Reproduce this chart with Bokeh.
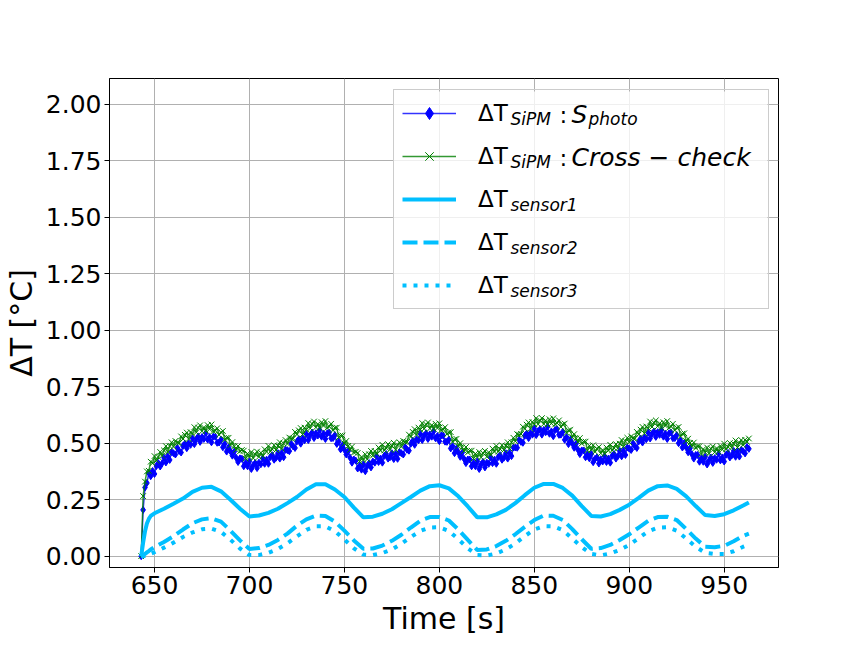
from bokeh.plotting import figure
from bokeh.models import (Range1d, FixedTicker, PrintfTickFormatter, Legend,
                          LegendItem, Label, ColumnDataSource, BoxAnnotation)
from bokeh.embed import file_html
from bokeh.resources import INLINE

# ---------------- data ----------------
T_SIPM = list(range(643, 964))  # one sample per second, 643 s ... 963 s

DT_SIPM_PHOTO = [
    0.000, 0.205, 0.304, 0.324, 0.368, 0.354, 0.377, 0.364, 0.399, 0.412,
    0.397, 0.411, 0.436, 0.415, 0.442, 0.426, 0.461, 0.456, 0.450, 0.480,
    0.466, 0.459, 0.488, 0.498, 0.478, 0.500, 0.493, 0.522, 0.496, 0.517,
    0.530, 0.506, 0.527, 0.519, 0.545, 0.516, 0.527, 0.504, 0.529, 0.529,
    0.502, 0.503, 0.516, 0.482, 0.497, 0.463, 0.481, 0.464, 0.445, 0.463,
    0.436, 0.417, 0.433, 0.431, 0.398, 0.413, 0.398, 0.420, 0.386, 0.403,
    0.412, 0.390, 0.414, 0.407, 0.433, 0.409, 0.427, 0.409, 0.439, 0.447,
    0.427, 0.436, 0.456, 0.432, 0.457, 0.438, 0.471, 0.469, 0.465, 0.498,
    0.486, 0.479, 0.508, 0.518, 0.498, 0.520, 0.513, 0.541, 0.514, 0.535,
    0.547, 0.523, 0.544, 0.534, 0.558, 0.529, 0.542, 0.519, 0.544, 0.547,
    0.522, 0.523, 0.536, 0.497, 0.507, 0.473, 0.491, 0.471, 0.450, 0.465,
    0.436, 0.414, 0.428, 0.423, 0.388, 0.400, 0.383, 0.407, 0.376, 0.398,
    0.412, 0.393, 0.419, 0.414, 0.443, 0.417, 0.432, 0.414, 0.444, 0.452,
    0.432, 0.438, 0.456, 0.430, 0.452, 0.431, 0.461, 0.456, 0.450, 0.483,
    0.471, 0.467, 0.498, 0.511, 0.493, 0.518, 0.513, 0.541, 0.514, 0.533,
    0.544, 0.519, 0.539, 0.529, 0.553, 0.522, 0.532, 0.509, 0.534, 0.534,
    0.507, 0.506, 0.516, 0.477, 0.487, 0.456, 0.476, 0.459, 0.440, 0.458,
    0.431, 0.412, 0.428, 0.428, 0.398, 0.413, 0.398, 0.420, 0.386, 0.406,
    0.417, 0.393, 0.414, 0.409, 0.438, 0.412, 0.427, 0.409, 0.439, 0.447,
    0.427, 0.436, 0.456, 0.432, 0.457, 0.443, 0.481, 0.481, 0.480, 0.515,
    0.506, 0.502, 0.533, 0.543, 0.523, 0.545, 0.538, 0.565, 0.536, 0.553,
    0.562, 0.538, 0.559, 0.549, 0.573, 0.542, 0.552, 0.531, 0.559, 0.562,
    0.537, 0.538, 0.551, 0.515, 0.527, 0.496, 0.516, 0.499, 0.480, 0.498,
    0.471, 0.452, 0.468, 0.468, 0.438, 0.450, 0.433, 0.452, 0.416, 0.431,
    0.437, 0.410, 0.429, 0.419, 0.443, 0.417, 0.432, 0.414, 0.444, 0.452,
    0.432, 0.443, 0.466, 0.442, 0.467, 0.448, 0.481, 0.476, 0.470, 0.500,
    0.486, 0.479, 0.508, 0.521, 0.503, 0.525, 0.518, 0.547, 0.521, 0.541,
    0.552, 0.528, 0.549, 0.537, 0.558, 0.529, 0.542, 0.519, 0.544, 0.547,
    0.522, 0.523, 0.536, 0.500, 0.512, 0.481, 0.501, 0.481, 0.460, 0.478,
    0.451, 0.432, 0.448, 0.448, 0.418, 0.433, 0.418, 0.440, 0.406, 0.423,
    0.437, 0.413, 0.434, 0.427, 0.453, 0.424, 0.437, 0.419, 0.449, 0.457,
    0.437, 0.446, 0.466, 0.440, 0.462, 0.441, 0.471, 0.464, 0.455, 0.483,
    0.475,
]

DT_SIPM_CROSS = [
    0.000, 0.266, 0.330, 0.375, 0.378, 0.418, 0.412, 0.443, 0.423, 0.439,
    0.461, 0.445, 0.468, 0.487, 0.461, 0.487, 0.504, 0.484, 0.510, 0.503,
    0.501, 0.530, 0.519, 0.537, 0.547, 0.519, 0.549, 0.541, 0.571, 0.548,
    0.569, 0.579, 0.553, 0.570, 0.555, 0.580, 0.562, 0.583, 0.553, 0.556,
    0.566, 0.537, 0.548, 0.554, 0.516, 0.524, 0.524, 0.492, 0.505, 0.486,
    0.471, 0.488, 0.464, 0.470, 0.467, 0.432, 0.454, 0.439, 0.461, 0.434,
    0.451, 0.463, 0.440, 0.458, 0.443, 0.473, 0.462, 0.488, 0.463, 0.474,
    0.491, 0.470, 0.488, 0.504, 0.476, 0.499, 0.514, 0.497, 0.525, 0.521,
    0.521, 0.550, 0.539, 0.557, 0.567, 0.539, 0.569, 0.560, 0.589, 0.566,
    0.586, 0.596, 0.570, 0.585, 0.568, 0.593, 0.577, 0.598, 0.568, 0.574,
    0.586, 0.557, 0.568, 0.569, 0.526, 0.534, 0.534, 0.499, 0.510, 0.488,
    0.471, 0.485, 0.459, 0.462, 0.457, 0.419, 0.439, 0.426, 0.451, 0.429,
    0.451, 0.466, 0.445, 0.465, 0.453, 0.481, 0.467, 0.493, 0.468, 0.479,
    0.496, 0.472, 0.488, 0.502, 0.471, 0.492, 0.504, 0.484, 0.510, 0.506,
    0.506, 0.538, 0.529, 0.550, 0.562, 0.537, 0.569, 0.560, 0.589, 0.564,
    0.583, 0.592, 0.565, 0.580, 0.563, 0.586, 0.567, 0.588, 0.558, 0.561,
    0.571, 0.540, 0.548, 0.549, 0.506, 0.517, 0.519, 0.487, 0.500, 0.481,
    0.466, 0.483, 0.459, 0.467, 0.467, 0.432, 0.454, 0.439, 0.461, 0.437,
    0.456, 0.466, 0.440, 0.460, 0.448, 0.476, 0.462, 0.488, 0.463, 0.474,
    0.491, 0.470, 0.488, 0.504, 0.476, 0.504, 0.524, 0.509, 0.540, 0.538,
    0.541, 0.573, 0.564, 0.582, 0.592, 0.564, 0.594, 0.584, 0.611, 0.584,
    0.601, 0.611, 0.585, 0.600, 0.583, 0.606, 0.587, 0.610, 0.583, 0.589,
    0.601, 0.572, 0.583, 0.587, 0.546, 0.557, 0.559, 0.527, 0.540, 0.521,
    0.506, 0.523, 0.499, 0.507, 0.507, 0.469, 0.489, 0.471, 0.491, 0.462,
    0.476, 0.483, 0.455, 0.470, 0.453, 0.481, 0.467, 0.493, 0.468, 0.479,
    0.496, 0.477, 0.498, 0.514, 0.486, 0.509, 0.524, 0.504, 0.530, 0.523,
    0.521, 0.550, 0.539, 0.560, 0.572, 0.544, 0.574, 0.566, 0.596, 0.572,
    0.591, 0.601, 0.575, 0.588, 0.568, 0.593, 0.577, 0.598, 0.568, 0.574,
    0.586, 0.557, 0.568, 0.572, 0.531, 0.542, 0.544, 0.509, 0.520, 0.501,
    0.486, 0.503, 0.479, 0.487, 0.487, 0.452, 0.474, 0.459, 0.481, 0.454,
    0.476, 0.486, 0.460, 0.478, 0.463, 0.488, 0.472, 0.498, 0.473, 0.484,
    0.501, 0.480, 0.498, 0.512, 0.481, 0.502, 0.514, 0.492, 0.515, 0.506,
    0.521,
]

T_SENSOR = [643, 644, 645, 646, 647, 648,
            650, 655, 660, 665, 670, 675, 680, 685, 690, 695,
            700, 705, 710, 715, 720, 725, 730, 735, 740, 745,
            750, 755, 760, 765, 770, 775, 780, 785, 790, 795,
            800, 805, 810, 815, 820, 825, 830, 835, 840, 845,
            850, 855, 860, 865, 870, 875, 880, 885, 890, 895,
            900, 905, 910, 915, 920, 925, 930, 935, 940, 945,
            950, 955, 960, 963]

DT_SENSOR1 = [0.000, 0.060, 0.110, 0.145, 0.165, 0.178,
              0.190, 0.210, 0.232, 0.255, 0.285, 0.303, 0.307, 0.287, 0.250, 0.210,
              0.176, 0.180, 0.192, 0.210, 0.235, 0.262, 0.295, 0.318, 0.318, 0.295,
              0.262, 0.215, 0.172, 0.175, 0.188, 0.208, 0.235, 0.262, 0.290, 0.310,
              0.314, 0.300, 0.265, 0.220, 0.172, 0.172, 0.185, 0.205, 0.235, 0.270,
              0.303, 0.320, 0.320, 0.302, 0.268, 0.222, 0.178, 0.176, 0.186, 0.205,
              0.228, 0.258, 0.290, 0.310, 0.313, 0.298, 0.265, 0.222, 0.182, 0.178,
              0.186, 0.203, 0.224, 0.238]

DT_SENSOR2 = [0.000, 0.004, 0.010, 0.017, 0.023, 0.030,
              0.040, 0.063, 0.088, 0.118, 0.146, 0.163, 0.168, 0.153, 0.113, 0.070,
              0.032, 0.036, 0.050, 0.072, 0.100, 0.135, 0.163, 0.180, 0.178, 0.153,
              0.113, 0.070, 0.033, 0.034, 0.047, 0.068, 0.095, 0.127, 0.157, 0.173,
              0.174, 0.158, 0.118, 0.072, 0.027, 0.030, 0.045, 0.068, 0.097, 0.130,
              0.160, 0.180, 0.179, 0.160, 0.120, 0.075, 0.033, 0.036, 0.050, 0.072,
              0.097, 0.127, 0.157, 0.173, 0.175, 0.160, 0.120, 0.078, 0.042, 0.040,
              0.046, 0.066, 0.090, 0.100]

DT_SENSOR3 = [0.000, 0.000, 0.002, 0.005, 0.008, 0.011,
              0.018, 0.038, 0.060, 0.085, 0.105, 0.119, 0.122, 0.108, 0.073, 0.034,
              0.005, 0.005, 0.015, 0.032, 0.057, 0.088, 0.117, 0.132, 0.132, 0.111,
              0.074, 0.035, 0.007, 0.005, 0.014, 0.030, 0.055, 0.085, 0.112, 0.127,
              0.128, 0.112, 0.075, 0.035, 0.005, 0.003, 0.012, 0.030, 0.056, 0.089,
              0.118, 0.133, 0.132, 0.115, 0.078, 0.040, 0.010, 0.004, 0.012, 0.028,
              0.050, 0.080, 0.110, 0.126, 0.128, 0.113, 0.078, 0.042, 0.015, 0.010,
              0.010, 0.022, 0.042, 0.052]

X_TICKS = [650, 700, 750, 800, 850, 900, 950]
Y_TICKS = [0.0, 0.25, 0.5, 0.75, 1.0, 1.25, 1.5, 1.75, 2.0]
X_LABEL = "Time [s]"
Y_LABEL = "ΔT [°C]"

FONT = "DejaVu Sans"
SKY = "#00BFFF"

# ---------------- figure ----------------
p = figure(width=856, height=640, output_backend="svg", toolbar_location=None,
           x_range=Range1d(626.3, 978.6), y_range=Range1d(-0.05, 2.114),
           min_border_left=108, min_border_right=78,
           min_border_top=78, min_border_bottom=73)
p.background_fill_color = "white"
p.border_fill_color = "white"
p.outline_line_color = "black"
p.outline_line_alpha = 1.0
p.outline_line_width = 1

p.xaxis.ticker = FixedTicker(ticks=X_TICKS)
p.yaxis.ticker = FixedTicker(ticks=Y_TICKS)
p.yaxis.formatter = PrintfTickFormatter(format="%.2f")
p.xaxis.axis_label = X_LABEL
p.yaxis.axis_label = Y_LABEL
for ax in (p.xaxis, p.yaxis):
    ax.axis_label_text_font = FONT
    ax.axis_label_text_font_size = "30px"
    ax.axis_label_text_font_style = "normal"
    ax.axis_label_text_color = "black"
    ax.major_label_text_font = FONT
    ax.major_label_text_font_size = "25px"
    ax.major_label_text_color = "black"
    ax.major_tick_out = 5
    ax.major_tick_in = 0
    ax.minor_tick_out = 0
    ax.minor_tick_in = 0
    ax.major_tick_line_color = "black"
    ax.axis_line_color = "black"
    ax.major_label_standoff = 3
    ax.axis_label_standoff = 4

p.grid.grid_line_color = "#b0b0b0"
p.grid.grid_line_width = 1

sipm = ColumnDataSource(dict(t=T_SIPM, photo=DT_SIPM_PHOTO, cross=DT_SIPM_CROSS))
sens = ColumnDataSource(dict(t=T_SENSOR, s1=DT_SENSOR1, s2=DT_SENSOR2, s3=DT_SENSOR3))

r_bl = p.line("t", "photo", source=sipm, line_color="blue", line_width=1.5, line_alpha=0.8)
r_bm = p.scatter("t", "photo", source=sipm, marker="diamond", size=7,
                 fill_color="blue", line_color="blue", line_width=1)
r_gl = p.line("t", "cross", source=sipm, line_color="green", line_width=1.5, line_alpha=0.8)
r_gm = p.scatter("t", "cross", source=sipm, marker="x", size=8,
                 line_color="green", line_width=1)
r_s1 = p.line("t", "s1", source=sens, line_color=SKY, line_width=4)
r_s2 = p.line("t", "s2", source=sens, line_color=SKY, line_width=4, line_dash="15 6")
r_s3 = p.line("t", "s3", source=sens, line_color=SKY, line_width=4, line_dash="4 7")

# translucent legend background (drawn below the legend texts)
p.add_layout(BoxAnnotation(left=284, right=658, bottom=258, top=476,
                           left_units="screen", right_units="screen",
                           bottom_units="screen", top_units="screen",
                           fill_color="white", fill_alpha=0.8, line_color=None))

legend = Legend(items=[
    LegendItem(label="ΔT", renderers=[r_bl, r_bm]),
    LegendItem(label="ΔT", renderers=[r_gl, r_gm]),
    LegendItem(label="ΔT", renderers=[r_s1]),
    LegendItem(label="ΔT", renderers=[r_s2]),
    LegendItem(label="ΔT", renderers=[r_s3]),
], location=(284, 258), orientation="vertical", margin=0,
    padding=8, spacing=13, glyph_width=54, glyph_height=30, label_height=30,
    label_width=282, label_standoff=22,
    label_text_font=FONT, label_text_font_size="23px", label_text_color="black",
    border_line_color="#cccccc", border_line_width=1, border_line_alpha=1.0,
    background_fill_alpha=0.0)
p.add_layout(legend)

# subscripts and the rest of each legend label
def lab(x, y, text, size, style="italic"):
    p.add_layout(Label(x=x, y=y, x_units="screen", y_units="screen", text=text,
                       text_font=FONT, text_font_size=size, text_font_style=style,
                       text_color="black", text_baseline="alphabetic", text_align="left"))

lab(401, 449, "SiPM", "17px")
lab(450, 453, ":", "23px", "normal")
lab(462, 453, "S", "25px")
lab(479, 449, "photo", "17px")
lab(401, 406, "SiPM", "17px")
lab(450, 410, ":", "23px", "normal")
lab(462, 410, "Cross − check", "25px")
lab(401, 363, "sensor1", "17px")
lab(401, 320, "sensor2", "17px")
lab(401, 277, "sensor3", "17px")

open("out.html", "w").write(file_html(p, INLINE))
